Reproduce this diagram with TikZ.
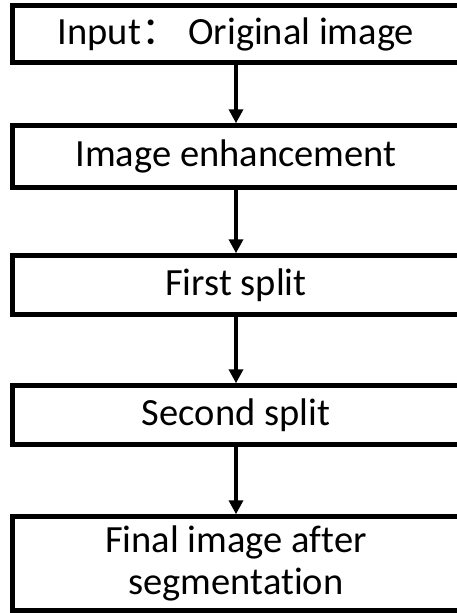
\documentclass[tikz,border=0pt]{standalone}
\usepackage{fontspec}
\setmainfont{Carlito}[RawFeature=-liga]
\newfontfamily\cjk{Noto Sans CJK SC}
\usetikzlibrary{arrows.meta}
\begin{document}
\begin{tikzpicture}[x=1pt,y=-1pt,
  box/.style={draw, line width=4.5pt, minimum width=447pt, inner sep=0pt,
    align=center, font=\fontsize{38.5}{42}\selectfont},
  flow/.style={-{Triangle[length=14pt,width=14pt]}, line width=3.5pt}]
\useasboundingbox (0,0) rectangle (456,613);
% process steps, top to bottom
\node[box, minimum height=57pt] (input)   at (236,34)    {Input{\cjk ：} Original image};
\node[box, minimum height=62pt] (enhance) at (236,156.5) {Image enhancement};
\node[box, minimum height=59pt] (first)   at (236,285)   {First split};
\node[box, minimum height=59pt] (second)  at (236,415)   {Second split};
\node[box, minimum height=94pt] (final)   at (236,563.5) {Final image after\\segmentation};
% connectors
\draw[flow] (input.south)   -- (enhance.north);
\draw[flow] (enhance.south) -- (first.north);
\draw[flow] (first.south)   -- (second.north);
\draw[flow] (second.south)  -- (final.north);
\end{tikzpicture}
\end{document}
